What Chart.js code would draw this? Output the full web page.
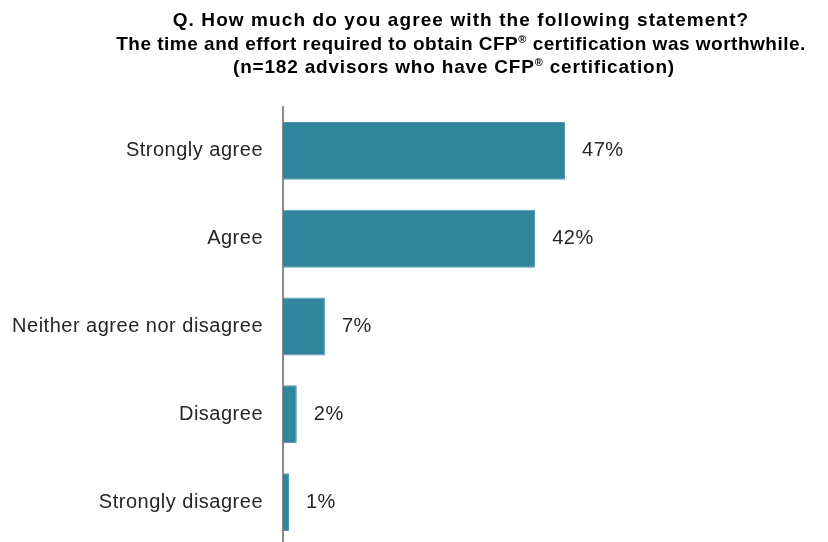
<!DOCTYPE html>
<html>
<head>
<meta charset="utf-8">
<script src="https://cdn.jsdelivr.net/npm/chart.js@4.4.1/dist/chart.umd.min.js"></script>
<style>
    html, body { margin: 0; padding: 0; background: #fff; overflow: hidden; }
    canvas { display: block; }
</style>
</head>
<body>
<canvas id="myChart" width="828" height="546"></canvas>
<script>
const categories = ['Strongly agree', 'Agree', 'Neither agree nor disagree', 'Disagree', 'Strongly disagree'];
const shares = [47.1, 42.1, 7.0, 2.3, 1.0];
const valueLabels = ['47%', '42%', '7%', '2%', '1%'];
const titleLines = [
    'Q. How much do you agree with the following statement?',
    'The time and effort required to obtain CFP® certification was worthwhile.',
    '(n=182 advisors who have CFP® certification)'
];
const titleSpacing = [1.1, 0.5, 0.8];
const titleCenters = [461, 461, 454];

const FONT = '"Liberation Sans", Arial, sans-serif';

// the reference text is set a little loose
const spacingPlugin = {
    id: 'spacing',
    beforeDraw(chart) {
        chart.ctx.letterSpacing = '0.5px';
    }
};

// title with small superscript ® marks
const titlePlugin = {
    id: 'titleLines',
    afterDraw(chart) {
        const ctx = chart.ctx;
        ctx.save();
        ctx.fillStyle = '#000';
        ctx.textBaseline = 'alphabetic';
        ctx.textAlign = 'left';
        titleLines.forEach((line, i) => {
            ctx.letterSpacing = titleSpacing[i] + 'px';
            const parts = line.split('®');
            const big = 'bold 19px ' + FONT;
            const small = 'bold 11px ' + FONT;
            let total = 0;
            parts.forEach((p, j) => {
                ctx.font = big;
                total += ctx.measureText(p).width;
                if (j < parts.length - 1) {
                    ctx.font = small;
                    total += ctx.measureText('®').width;
                }
            });
            let x = titleCenters[i] - total / 2;
            const y = 26 + i * 23.5;
            parts.forEach((p, j) => {
                ctx.font = big;
                ctx.fillText(p, x, y);
                x += ctx.measureText(p).width;
                if (j < parts.length - 1) {
                    ctx.font = small;
                    ctx.fillText('®', x, y - 7);
                    x += ctx.measureText('®').width;
                }
            });
        });
        ctx.restore();
    }
};

const valuePlugin = {
    id: 'valueLabels',
    afterDatasetsDraw(chart) {
        const ctx = chart.ctx;
        const meta = chart.getDatasetMeta(0);
        ctx.save();
        ctx.letterSpacing = '0.5px';
        ctx.font = '20px ' + FONT;
        ctx.fillStyle = '#262626';
        ctx.textAlign = 'left';
        ctx.textBaseline = 'middle';
        meta.data.forEach((bar, i) => {
            ctx.fillText(valueLabels[i], bar.x + 17, bar.y);
        });
        ctx.restore();
    }
};

const ctx = document.getElementById('myChart').getContext('2d');
window.myChart = new Chart(ctx, {
    type: 'bar',
    data: {
        labels: categories,
        datasets: [{
            data: shares,
            backgroundColor: '#31859c',
            borderColor: '#4a98ad',
            borderWidth: 1,
            borderSkipped: 'left',
            barPercentage: 0.66,
            categoryPercentage: 1
        }]
    },
    options: {
        indexAxis: 'y',
        responsive: false,
        animation: false,
        layout: {
            padding: { top: 107, right: 6, bottom: 0, left: 0 }
        },
        plugins: {
            legend: { display: false },
            title: { display: false },
            tooltip: { enabled: false }
        },
        scales: {
            x: {
                display: false,
                min: 0,
                max: 90
            },
            y: {
                afterFit: function(scale) {
                    scale.width = 283;
                    scale.paddingTop = 0;
                    scale.paddingBottom = 0;
                },
                grid: { display: false, drawTicks: false },
                border: { display: true, color: '#8c8c8c', width: 2 },
                ticks: {
                    color: '#262626',
                    padding: 20,
                    font: { family: FONT, size: 20 }
                }
            }
        }
    },
    plugins: [spacingPlugin, titlePlugin, valuePlugin]
});
</script>
</body>
</html>
